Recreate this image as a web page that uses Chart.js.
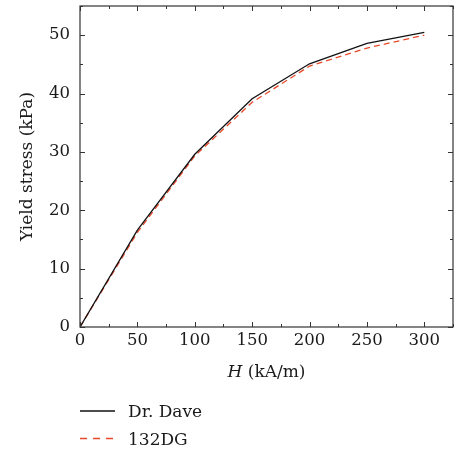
<!DOCTYPE html>
<html>
<head>
<meta charset="utf-8">
<script src="https://cdn.jsdelivr.net/npm/chart.js@4.4.1/dist/chart.umd.min.js"></script>
<style>
  html, body { margin: 0; padding: 0; background: #fff; }
  #wrap { width: 454px; height: 453px; }
</style>
</head>
<body>
<div id="wrap"><canvas id="c" width="454" height="453"></canvas></div>
<script>
// ---- data ----
const hValues = [0, 50, 100, 150, 200, 250, 300];            // H (kA/m)
const drDave  = [0, 16.6, 29.6, 39.1, 45.1, 48.6, 50.5];     // Yield stress (kPa)
const dg132   = [0, 16.2, 29.3, 38.5, 44.7, 47.8, 50.0];     // Yield stress (kPa)
const seriesNames = ['Dr. Dave', '132DG'];
const xTitleItalic = 'H';
const xTitleRest = ' (kA/m)';
const yTitle = 'Yield stress (kPa)';
const xMajorTicks = [0, 50, 100, 150, 200, 250, 300];
const yMajorTicks = [0, 10, 20, 30, 40, 50];

const SERIF = '"DejaVu Serif", serif';
const AXIS = '#333333';
const TEXT = '#1a1a1a';

const toXY = (xs, ys) => xs.map((x, i) => ({ x, y: ys[i] }));

const boxAndTicks = {
  id: 'boxAndTicks',
  afterDatasetsDraw(chart) {
    const { ctx, chartArea: a, scales: { x, y } } = chart;
    ctx.save();
    ctx.strokeStyle = AXIS;
    ctx.lineWidth = 1.2;
    ctx.strokeRect(a.left, a.top, a.right - a.left, a.bottom - a.top);
    ctx.lineWidth = 1;
    ctx.beginPath();
    for (let v = 0; v <= x.max + 1e-9; v += 25) {
      const px = Math.round(x.getPixelForValue(v)) + 0.5;
      const len = v % 50 === 0 ? 5 : 3;
      ctx.moveTo(px, a.bottom); ctx.lineTo(px, a.bottom - len);
      ctx.moveTo(px, a.top); ctx.lineTo(px, a.top + len);
    }
    for (let v = 0; v <= y.max + 1e-9; v += 5) {
      const py = Math.round(y.getPixelForValue(v)) + 0.5;
      const len = v % 10 === 0 ? 5 : 3;
      ctx.moveTo(a.left, py); ctx.lineTo(a.left + len, py);
      ctx.moveTo(a.right, py); ctx.lineTo(a.right - len, py);
    }
    ctx.stroke();

    // x axis title with italic H
    ctx.fillStyle = TEXT;
    ctx.textBaseline = 'middle';
    const fItal = 'italic 17px ' + SERIF;
    const fNorm = '17px ' + SERIF;
    ctx.font = fItal; const w1 = ctx.measureText(xTitleItalic).width;
    ctx.font = fNorm; const w2 = ctx.measureText(xTitleRest).width;
    const cx = (a.left + a.right) / 2;
    let sx = cx - (w1 + w2) / 2;
    ctx.textAlign = 'left';
    ctx.font = fItal; ctx.fillText(xTitleItalic, sx, 373);
    ctx.font = fNorm; ctx.fillText(xTitleRest, sx + w1, 373);

    // legend (vertical, below chart)
    const rows = [411, 438.5];
    chart.data.datasets.forEach((ds, i) => {
      const yy = rows[i];
      ctx.strokeStyle = ds.borderColor;
      ctx.lineWidth = 1.3;
      ctx.setLineDash(i === 1 ? [7, 6] : []);
      ctx.beginPath();
      ctx.moveTo(80, yy); ctx.lineTo(115, yy);
      ctx.stroke();
      ctx.setLineDash([]);
      ctx.fillStyle = TEXT;
      ctx.font = fNorm;
      ctx.textAlign = 'left';
      ctx.textBaseline = 'middle';
      ctx.fillText(ds.label, 128, yy + 2);
    });
    ctx.restore();
  }
};

new Chart(document.getElementById('c'), {
  type: 'line',
  data: {
    datasets: [
      { label: seriesNames[0], data: toXY(hValues, drDave), borderColor: '#111111',
        borderWidth: 1.3, pointRadius: 0, fill: false, tension: 0 },
      { label: seriesNames[1], data: toXY(hValues, dg132), borderColor: 'rgb(232,72,40)',
        borderWidth: 1.3, borderDash: [6, 4], pointRadius: 0, fill: false, tension: 0 }
    ]
  },
  options: {
    responsive: false,
    animation: false,
    devicePixelRatio: 1,
    layout: { padding: { left: 0, right: 1, top: 6, bottom: 66 } },
    plugins: { legend: { display: false }, tooltip: { enabled: false } },
    scales: {
      x: {
        type: 'linear', min: 0, max: 325,
        border: { display: false },
        grid: { display: false, drawTicks: false },
        afterBuildTicks: s => { s.ticks = xMajorTicks.map(v => ({ value: v })); },
        afterFit: s => { s.height = 60; s.paddingLeft = 0; s.paddingRight = 0; },
        ticks: { padding: 4, color: TEXT, font: { family: SERIF, size: 16.5 }, maxRotation: 0, autoSkip: false }
      },
      y: {
        type: 'linear', min: 0, max: 55,
        border: { display: false },
        grid: { display: false, drawTicks: false },
        afterBuildTicks: s => { s.ticks = yMajorTicks.map(v => ({ value: v })); },
        afterFit: s => { s.width = 80; s.paddingTop = 0; s.paddingBottom = 0; },
        ticks: { padding: 10, color: TEXT, font: { family: SERIF, size: 16.5 } },
        title: { display: true, text: yTitle, color: TEXT, font: { family: SERIF, size: 17 }, padding: { top: 17, bottom: 0 } }
      }
    }
  },
  plugins: [boxAndTicks]
});
</script>
</body>
</html>
